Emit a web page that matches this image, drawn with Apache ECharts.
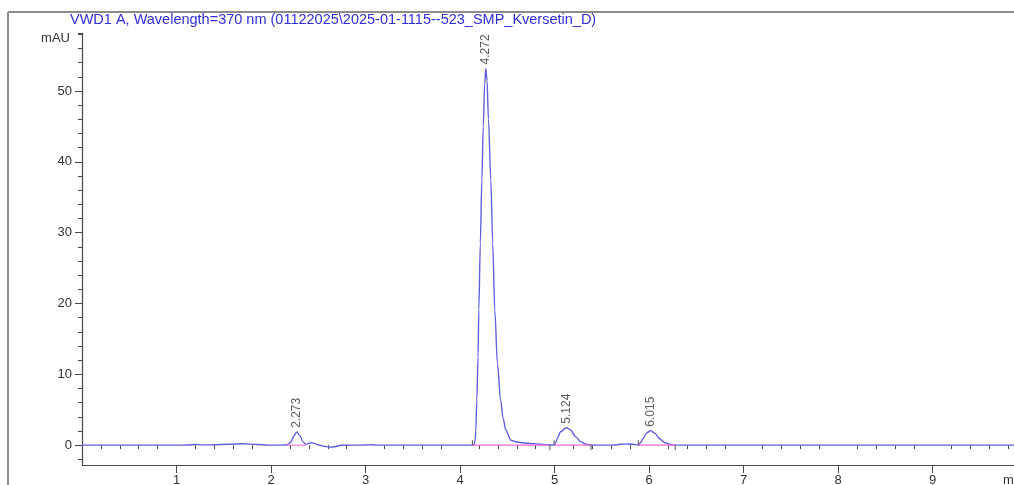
<!DOCTYPE html>
<html>
<head>
<meta charset="utf-8">
<script src="https://cdn.jsdelivr.net/npm/echarts@6/dist/echarts.min.js"></script>
<style>
  html, body { margin: 0; padding: 0; background: #ffffff; }
  #chart { width: 1014px; height: 485px; }
</style>
</head>
<body>
<div id="chart"></div>
<script>
// Detector trace: retention time (min) and absorbance (mAU)
const traceTime = [
  0.00, 0.50, 1.00, 1.12, 1.20, 1.28, 1.40, 1.55, 1.70, 1.85, 1.98, 2.08,
  2.146, 2.178, 2.21, 2.241, 2.273, 2.305, 2.336, 2.368, 2.40, 2.421, 2.463, 2.506,
  2.56, 2.612, 2.675, 2.74, 2.85, 3.00, 3.06, 3.12, 3.50, 4.00, 4.12,
  4.147, 4.16, 4.166, 4.177, 4.19, 4.198, 4.214, 4.23, 4.245, 4.26, 4.272,
  4.285, 4.30, 4.325, 4.345, 4.367, 4.395, 4.428, 4.455, 4.484, 4.537, 4.60,
  4.687, 4.80, 4.90, 4.96,
  4.994, 5.013, 5.029, 5.064, 5.124, 5.169, 5.222, 5.275, 5.328, 5.364, 5.42,
  5.613, 5.698, 5.782, 5.856,
  5.885, 5.909, 5.934, 5.973, 6.015, 6.06, 6.11, 6.166, 6.227, 6.28,
  7.00, 8.00, 9.00, 9.86
];
const traceMAU = [
  0.00, 0.00, 0.00, 0.02, 0.10, 0.04, 0.05, 0.14, 0.20, 0.10, 0.00, 0.00,
  0.02, 0.10, 0.45, 1.30, 1.88, 1.35, 0.50, 0.14, 0.25, 0.35, 0.22, 0.02,
  -0.15, -0.28, -0.22, -0.02, 0.00, 0.02, 0.06, 0.00, 0.00, 0.00, 0.00,
  0.05, 0.8, 2.1, 6.4, 12.5, 19.1, 28.5, 37.4, 45.0, 51.0, 53.2,
  51.5, 46.0, 37.4, 28.5, 19.1, 11.5, 6.4, 3.8, 2.1, 0.7, 0.45,
  0.30, 0.18, 0.08, 0.03,
  0.00, 0.40, 1.00, 1.90, 2.47, 2.15, 1.20, 0.50, 0.17, 0.05, 0.00,
  0.00, 0.12, 0.17, 0.08,
  0.00, 0.35, 0.90, 1.70, 2.05, 1.70, 0.90, 0.35, 0.10, 0.00,
  0.00, 0.00, 0.00, 0.00
];

// Integrated peaks
const peakTimes = [2.273, 4.272, 5.124, 6.015];
const peakHeights = [1.88, 53.2, 2.47, 2.05];
const integStart = [2.16, 4.13, 4.994, 5.885];
const integEnd = [2.37, 4.95, 5.385, 6.276];
// Peak start / end event marks
const eventStart = [4.13, 4.994, 5.885];
const eventEnd = [4.95, 5.385, 6.276];

// Axis ticks and labels
const xTickLabels = [1, 2, 3, 4, 5, 6, 7, 8, 9];
const xMinorTicks = [0.2, 0.4, 0.6, 0.8, 1.2, 1.4, 1.6, 1.8, 2.2, 2.4, 2.6, 2.8,
  3.2, 3.4, 3.6, 3.8, 4.2, 4.4, 4.6, 4.8, 5.2, 5.4, 5.6, 5.8, 6.2, 6.4, 6.6, 6.8,
  7.2, 7.4, 7.6, 7.8, 8.2, 8.4, 8.6, 8.8, 9.2, 9.4, 9.6, 9.8];
const yTickLabels = [0, 10, 20, 30, 40, 50];
const yMinorTicks = [-2, 2, 4, 6, 8, 12, 14, 16, 18, 22, 24, 26, 28, 32, 34, 36, 38,
  42, 44, 46, 48, 52, 54, 56, 58];

const FONT = '"Liberation Sans", Arial, sans-serif';
const AXIS_COLOR = '#4a4a4a';
const TEXT_COLOR = '#333333';

const chart = echarts.init(document.getElementById('chart'), null, { renderer: 'canvas' });

const tracePoints = traceTime.map((t, i) => [t, traceMAU[i]]);
const peakPoints = peakTimes.map((t, i) => [t, peakHeights[i]]);
const baselinePairs = integStart.map((t, i) => [t, integEnd[i]]);
const eventMarks = eventStart.map(t => [t, 1]).concat(eventEnd.map(t => [t, -1]));

const option = {
  animation: false,
  backgroundColor: '#ffffff',
  title: {
    text: 'VWD1 A, Wavelength=370 nm (01122025\\2025-01-1115--523_SMP_Kversetin_D)',
    left: 70,
    top: 12,
    padding: 0,
    textStyle: { fontFamily: FONT, fontSize: 14.5, fontWeight: 'normal', color: '#2f2fd6' }
  },
  graphic: [
    { type: 'line', shape: { x1: 8, y1: 12, x2: 1014, y2: 12 }, style: { stroke: '#8c8c8c', lineWidth: 2 }, silent: true },
    { type: 'line', shape: { x1: 8, y1: 12, x2: 8, y2: 485 }, style: { stroke: '#8c8c8c', lineWidth: 2 }, silent: true }
  ],
  grid: { left: 82, right: 0, top: 33, bottom: 20, outerBoundsMode: 'none', containLabel: false },
  xAxis: [
    {
      type: 'value', min: 0, max: 9.86, position: 'bottom',
      axisLine: { show: true, onZero: false, lineStyle: { color: AXIS_COLOR, width: 1.2 } },
      axisTick: { show: true, customValues: xTickLabels, length: 8, lineStyle: { color: AXIS_COLOR, width: 1 } },
      axisLabel: { show: true, customValues: xTickLabels, margin: 9, fontSize: 13, color: TEXT_COLOR, fontFamily: FONT },
      splitLine: { show: false },
      name: 'min', nameLocation: 'end', nameGap: -11,
      nameTextStyle: { fontSize: 13, color: TEXT_COLOR, fontFamily: FONT, align: 'left', verticalAlign: 'top', padding: [9, 0, 0, 0] }
    },
    {
      type: 'value', min: 0, max: 9.86, position: 'bottom', offset: 0,
      axisLine: { show: false },
      axisTick: { show: true, customValues: xMinorTicks, length: 4, lineStyle: { color: AXIS_COLOR, width: 1 } },
      axisLabel: { show: false },
      splitLine: { show: false }
    }
  ],
  yAxis: [
    {
      type: 'value', min: -2.8, max: 58.2, position: 'left',
      axisLine: { show: true, onZero: false, lineStyle: { color: AXIS_COLOR, width: 1.2 } },
      axisTick: { show: true, customValues: yTickLabels, length: 7, lineStyle: { color: AXIS_COLOR, width: 1 } },
      axisLabel: { show: true, customValues: yTickLabels, margin: 10, fontSize: 13, color: TEXT_COLOR, fontFamily: FONT },
      splitLine: { show: false },
      name: 'mAU', nameLocation: 'end', nameGap: -5,
      nameTextStyle: { fontSize: 13, color: TEXT_COLOR, fontFamily: FONT, align: 'right', verticalAlign: 'middle', padding: [0, 12, 0, 0] }
    },
    {
      type: 'value', min: -2.8, max: 58.2, position: 'left', offset: 0,
      axisLine: { show: false },
      axisTick: { show: true, customValues: yMinorTicks.concat([58.2]), length: 4, lineStyle: { color: AXIS_COLOR, width: 1 } },
      axisLabel: { show: false },
      splitLine: { show: false }
    }
  ],
  series: [
    {
      name: 'VWD1 A',
      type: 'line',
      xAxisIndex: 0, yAxisIndex: 0,
      data: tracePoints,
      showSymbol: false,
      symbol: 'none',
      smooth: 0.3,
      smoothMonotone: 'x',
      lineStyle: { color: '#6060dc', width: 1.4 },
      z: 3
    },
    {
      name: 'baseline',
      type: 'custom',
      xAxisIndex: 0, yAxisIndex: 0,
      data: baselinePairs,
      renderItem: function (params, api) {
        const a = api.coord([api.value(0), 0]);
        const b = api.coord([api.value(1), 0]);
        return { type: 'line', shape: { x1: a[0], y1: a[1], x2: b[0], y2: b[1] },
                 style: { stroke: '#f36ad2', lineWidth: 1.1 } };
      },
      z: 4
    },
    {
      name: 'events',
      type: 'custom',
      xAxisIndex: 0, yAxisIndex: 0,
      data: eventMarks,
      renderItem: function (params, api) {
        const p = api.coord([api.value(0), 0]);
        const dir = api.value(1);
        return { type: 'line', shape: { x1: p[0], y1: p[1], x2: p[0], y2: p[1] - dir * 5 },
                 style: { stroke: '#555555', lineWidth: 1 } };
      },
      z: 5
    },
    {
      name: 'peak labels',
      type: 'scatter',
      xAxisIndex: 0, yAxisIndex: 0,
      data: peakPoints,
      symbolSize: 0,
      silent: true,
      label: {
        show: true,
        position: 'top',
        distance: 4,
        rotate: 90,
        align: 'left',
        verticalAlign: 'middle',
        fontSize: 12,
        fontFamily: FONT,
        color: TEXT_COLOR,
        formatter: function (p) { return p.value[0].toFixed(3); }
      },
      z: 6
    }
  ]
};

chart.setOption(option);
</script>
</body>
</html>
